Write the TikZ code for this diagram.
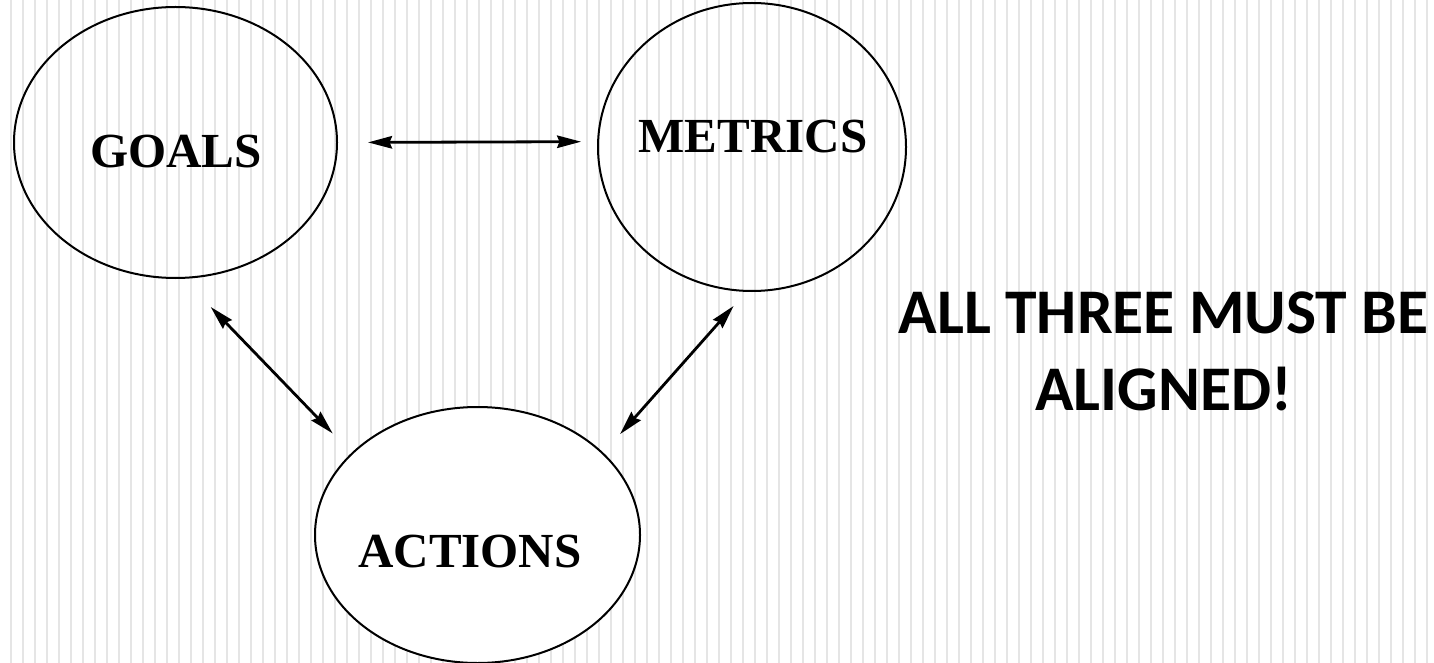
\documentclass[tikz,border=0pt]{standalone}
\usepackage{fontspec}
\setmainfont{Liberation Serif}
\newfontfamily\calibri{Carlito}
\usetikzlibrary{arrows.meta, shapes.geometric}

\begin{document}
\begin{tikzpicture}[
  x=0.5pt, y=-0.5pt,
  line cap=round, line join=round,
  grid/.style={draw=black!10, line width=0.7pt, line cap=butt},
  ell/.style={draw=black, ellipse, line width=1pt, inner sep=0pt, outer sep=0pt},
  ttx/.style={font=\fontsize{24.5}{29}\selectfont\bfseries, inner sep=0pt},
  dbl/.style={{Stealth[length=12pt, width=6.2pt, inset=1.2pt]}-{Stealth[length=12pt, width=6.2pt, inset=1.2pt]},
              draw=black, line width=1.4pt},
  note/.style={font=\fontsize{31.8}{38.5}\selectfont\calibri\bfseries, align=center, inner sep=0pt},
]
\useasboundingbox (0,0) rectangle (1434,663);

% striped background
\foreach \i in {0,...,118}
  \draw[grid] ({11+12*\i},0) -- ({11+12*\i},663);

\node[ell, minimum width=161.5pt, minimum height=135.5pt] (goals)   at (175.5,142.5) {};
\node[ell, minimum width=154pt,   minimum height=144pt]   (metrics) at (752,147) {};
\node[ell, fill=white, minimum width=162.5pt, minimum height=128pt] (actions) at (477.5,535) {};

\node[ttx] (goalst)   at (176,151.5) {GOALS};
\node[ttx] (metricst) at (753,137)   {METRICS};
\node[ttx] (actionst) at (470,552)   {ACTIONS};

\node[note, anchor=base] (msg) at (1163.5,410) {ALL THREE MUST BE\\ALIGNED!};

\draw[dbl, shorten <=15.5pt, shorten >=8.5pt] (goals.0) -- (metrics.178.5);
\draw[dbl, shorten <=20.25pt, shorten >=14pt] (goals.-87.7) -- (actions.147.9);
\draw[dbl, shorten <=10pt, shorten >=13pt] (metrics.-92.7) -- (actions.33);
\end{tikzpicture}
\end{document}
